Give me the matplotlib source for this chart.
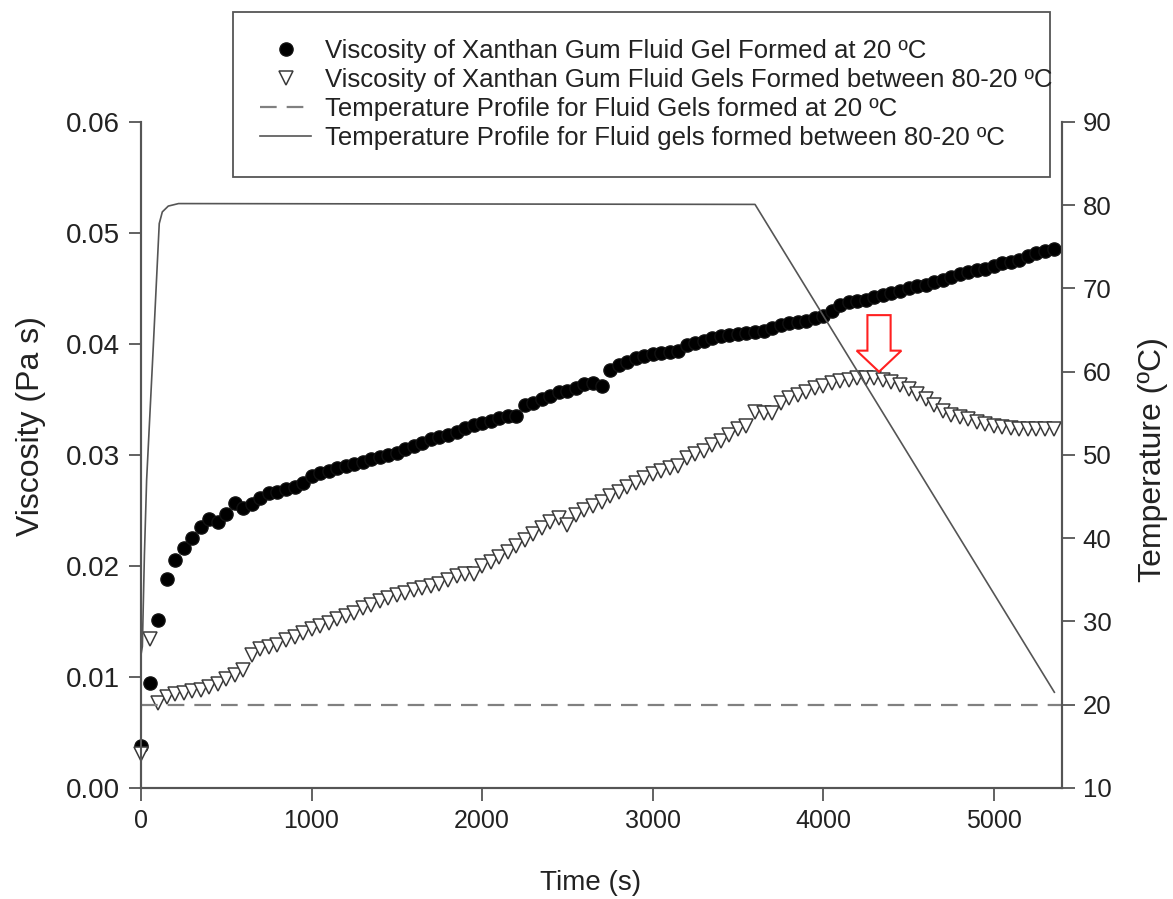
import numpy as np
import matplotlib.pyplot as plt
from matplotlib.patches import FancyArrow
from matplotlib.ticker import FormatStrFormatter

plt.rcParams["font.family"] = ["Liberation Sans", "DejaVu Sans"]

# time of each viscosity reading (s)
time_s = np.arange(0, 5351, 50)

# viscosity of fluid gel formed at 20 C (Pa s)
visc_20 = [
    0.0038, 0.0095, 0.0151, 0.0188, 0.0205, 0.0216, 0.0225, 0.0235, 0.0242, 0.0240,
    0.0247, 0.0257, 0.0252, 0.0256, 0.0261, 0.0266, 0.0267, 0.0269, 0.0271, 0.0275,
    0.0281, 0.0284, 0.0286, 0.0288, 0.0290, 0.0292, 0.0294, 0.0296, 0.0298, 0.0300,
    0.0302, 0.0305, 0.0308, 0.0311, 0.0314, 0.0316, 0.0318, 0.0321, 0.0324, 0.0327,
    0.0329, 0.0331, 0.0333, 0.0335, 0.0335, 0.0345, 0.0347, 0.0350, 0.0353, 0.0357,
    0.0358, 0.0360, 0.0364, 0.0365, 0.0362, 0.0377, 0.0381, 0.0384, 0.0387, 0.0389,
    0.0391, 0.0392, 0.0393, 0.0394, 0.0399, 0.0401, 0.0403, 0.0405, 0.0407, 0.0408,
    0.0409, 0.0410, 0.0411, 0.0412, 0.0414, 0.0417, 0.0419, 0.0420, 0.0421, 0.0423,
    0.0425, 0.0430, 0.0435, 0.0438, 0.0439, 0.0440, 0.0442, 0.0444, 0.0446, 0.0448,
    0.0450, 0.0452, 0.0453, 0.0456, 0.0458, 0.0460, 0.0463, 0.0465, 0.0467, 0.0468,
    0.0470, 0.0473, 0.0474, 0.0476, 0.0479, 0.0482, 0.0484, 0.0486,
]

# viscosity of fluid gel formed while cooling 80 -> 20 C (Pa s)
visc_80_20 = [
    0.0031, 0.0134, 0.0077, 0.0082, 0.0085, 0.0086, 0.0087, 0.0088, 0.0091, 0.0094,
    0.0098, 0.0102, 0.0106, 0.0120, 0.0125, 0.0127, 0.0129, 0.0133, 0.0136, 0.0140,
    0.0143, 0.0146, 0.0149, 0.0152, 0.0155, 0.0158, 0.0162, 0.0165, 0.0168, 0.0171,
    0.0174, 0.0176, 0.0178, 0.0180, 0.0182, 0.0184, 0.0187, 0.0191, 0.0193, 0.0193,
    0.0200, 0.0204, 0.0208, 0.0213, 0.0218, 0.0223, 0.0229, 0.0234, 0.0240, 0.0243,
    0.0237, 0.0246, 0.0250, 0.0254, 0.0258, 0.0263, 0.0267, 0.0271, 0.0275, 0.0279,
    0.0283, 0.0286, 0.0288, 0.0290, 0.0297, 0.0301, 0.0304, 0.0309, 0.0313, 0.0318,
    0.0323, 0.0326, 0.0339, 0.0338, 0.0338, 0.0347, 0.0351, 0.0354, 0.0357, 0.0360,
    0.0362, 0.0365, 0.0367, 0.0368, 0.0369, 0.0369, 0.0369, 0.0368, 0.0366, 0.0363,
    0.0359, 0.0355, 0.0350, 0.0345, 0.0340, 0.0336, 0.0334, 0.0332, 0.0330, 0.0328,
    0.0326, 0.0325, 0.0324, 0.0323, 0.0323, 0.0323, 0.0323, 0.0323,
]

# temperature profiles (C)
temp_flat_t = [0, 5400]
temp_flat = [20, 20]
temp_ramp_t = [0, 8, 20, 33, 72, 107, 125, 160, 220, 3600, 5355]
temp_ramp = [26, 27, 38, 47, 63, 77.8, 79.2, 79.9, 80.2, 80.1, 21.5]

labels = [
    "Viscosity of Xanthan Gum Fluid Gel Formed at 20 \u00baC",
    "Viscosity of Xanthan Gum Fluid Gels Formed between 80-20 \u00baC",
    "Temperature Profile for Fluid Gels formed at 20 \u00baC",
    "Temperature Profile for Fluid gels formed between 80-20 \u00baC",
]

spine_col = "#555555"
text_col = "#222222"

fig = plt.figure(figsize=(11.73, 8.99), dpi=100)
ax = fig.add_axes([0.1202, 0.1235, 0.7852, 0.7408])
ax2 = ax.twinx()

h1, = ax.plot(time_s, visc_20, "o", color="black", ms=9.5, mec="#111111",
              clip_on=False, zorder=3)
h2, = ax.plot(time_s, visc_80_20, "v", mfc="white", mec="#3a3a3a", ms=10.5,
              mew=1.1, clip_on=False, zorder=4)
h3, = ax2.plot(temp_flat_t, temp_flat, "--", color="#808080", lw=1.6,
               dashes=(7.5, 4.5))
h4, = ax2.plot(temp_ramp_t, temp_ramp, "-", color="#555555", lw=1.2)

# red hollow arrow pointing at the viscosity peak
arrow = FancyArrow(4327, 0.0426, 0, -0.0051, width=136, head_width=262,
                   head_length=0.0019, length_includes_head=True,
                   facecolor="white", edgecolor="#ff2020", lw=1.5, zorder=6)
ax.add_patch(arrow)

ax.set_xlim(0, 5400)
ax.set_ylim(0, 0.06)
ax2.set_ylim(10, 90)
ax.set_xticks([0, 1000, 2000, 3000, 4000, 5000])
ax.set_yticks(np.arange(0, 0.061, 0.01))
ax.yaxis.set_major_formatter(FormatStrFormatter("%.2f"))
ax2.set_yticks(np.arange(10, 91, 10))

for a in (ax, ax2):
    a.spines["top"].set_visible(False)
    for s in a.spines.values():
        s.set_color(spine_col)
        s.set_linewidth(1.5)
    a.tick_params(direction="out", length=9, width=1.3, color=spine_col,
                  labelcolor=text_col, pad=6)
ax.tick_params(axis="x", labelsize=18)
ax.tick_params(axis="y", labelsize=20)
ax2.tick_params(axis="y", labelsize=18.5)

ax.set_xlabel("Time (s)", fontsize=20, color=text_col)
ax.xaxis.set_label_coords(0.4886, -0.123)
ax.set_ylabel("Viscosity (Pa s)", fontsize=23, color=text_col)
ax.yaxis.set_label_coords(-0.103, 0.5435)
ax2.set_ylabel("Temperature (\u00baC)", fontsize=23, color=text_col)
ax2.yaxis.set_label_coords(1.082, 0.4925)

leg = fig.legend([h1, h2, h3, h4], labels, loc="upper left",
                 bbox_to_anchor=(0.1986, 0.9867, 0.6964, 0), mode="expand",
                 borderaxespad=0, fontsize=18.5, handlelength=2.0,
                 handletextpad=0.55, labelspacing=0.2, borderpad=1.05,
                 fancybox=False, framealpha=1, edgecolor=spine_col)
leg.get_frame().set_linewidth(1.3)
for t in leg.get_texts():
    t.set_color(text_col)

plt.savefig("out.png", dpi=100)
